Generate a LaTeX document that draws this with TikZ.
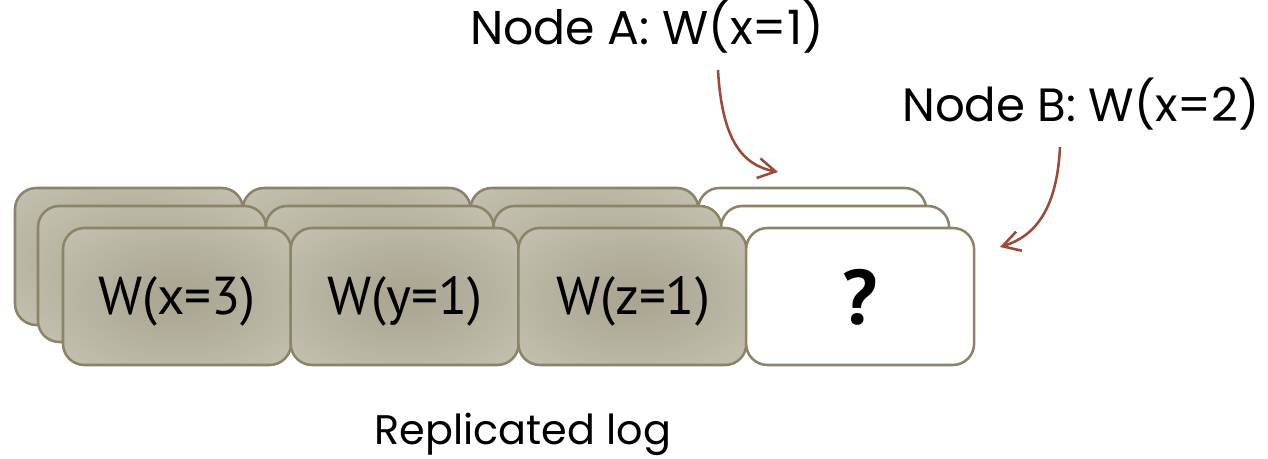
\documentclass[tikz,border=0pt]{standalone}
\usepackage{fontspec}
\usetikzlibrary{arrows.meta}
\setmainfont{Poppins}
\newfontfamily\boxfont{PT Sans}
\definecolor{edge}{HTML}{8B8468}
\definecolor{shadein}{HTML}{A8A490}
\definecolor{shadeout}{HTML}{CAC7B7}
\definecolor{pointer}{HTML}{9A4A35}
% soft radial fill for the occupied log slots
\pgfdeclareradialshading{entryshade}{\pgfpoint{0bp}{0bp}}{%
  color(0bp)=(shadein); color(12bp)=(shadein!75!shadeout);
  color(42bp)=(shadeout); color(100bp)=(shadeout)}
\tikzset{
  logentry/.style={draw=edge, line width=1.9pt, rounded corners=16pt,
    shading=entryshade},
  freeentry/.style={draw=edge, line width=1.9pt, rounded corners=16pt, fill=white},
  entrytext/.style={font=\boxfont\fontsize{40}{40}\selectfont, anchor=base},
  caption/.style={font=\fontsize{35.5}{35.5}\selectfont, anchor=base},
  pointerline/.style={draw=pointer, line width=1.9pt,
    -{Straight Barb[length=13pt, width=15pt, line width=1.9pt]}}
}
\begin{document}
\begin{tikzpicture}[x=0.75pt, y=-0.75pt]
  \useasboundingbox (0,0) rectangle (1268,459);
  % three stacked layers of log slots, back to front
  \foreach \dx/\top/\bot in {-48/188/325, -25/206/342, 0/228/365} {
    \foreach \i in {0,1,2} {
      \path[logentry] ({63+227.7*\i+\dx},\top) rectangle ++(228,{\bot-\top});
    }
    \path[freeentry] ({63+227.7*3+\dx},\top) rectangle ++(228,{\bot-\top});
  }
  % slot contents
  \node[entrytext] (e1) at (177,315) {W(x=3)};
  \node[entrytext] (e2) at (405,315) {W(y=1)};
  \node[entrytext] (e3) at (633,315) {W(z=1)};
  \node[entrytext, font=\boxfont\bfseries\fontsize{58}{58}\selectfont] (e4) at (860,325) {?};
  % labels
  \node[caption] (na) at (647,45) {Node A: W(x=1)};
  \node[caption, font=\fontsize{35}{35}\selectfont] (nb) at (1081,122) {Node B: W(x=2)};
  \node[caption, font=\fontsize{31}{31}\selectfont] (rl) at (523,445) {Replicated log};
  % pointers into the contested slot
  \coordinate (aStart) at (718,70);
  \coordinate (aEnd) at (778,172);
  \coordinate (bStart) at (1060,147);
  \coordinate (bEnd) at (1000,247);
  \draw[pointerline] (aStart) .. controls (722,140) and (742,165) .. (aEnd);
  \draw[pointerline] (bStart) .. controls (1057,208) and (1036,236) .. (bEnd);
\end{tikzpicture}
\end{document}
